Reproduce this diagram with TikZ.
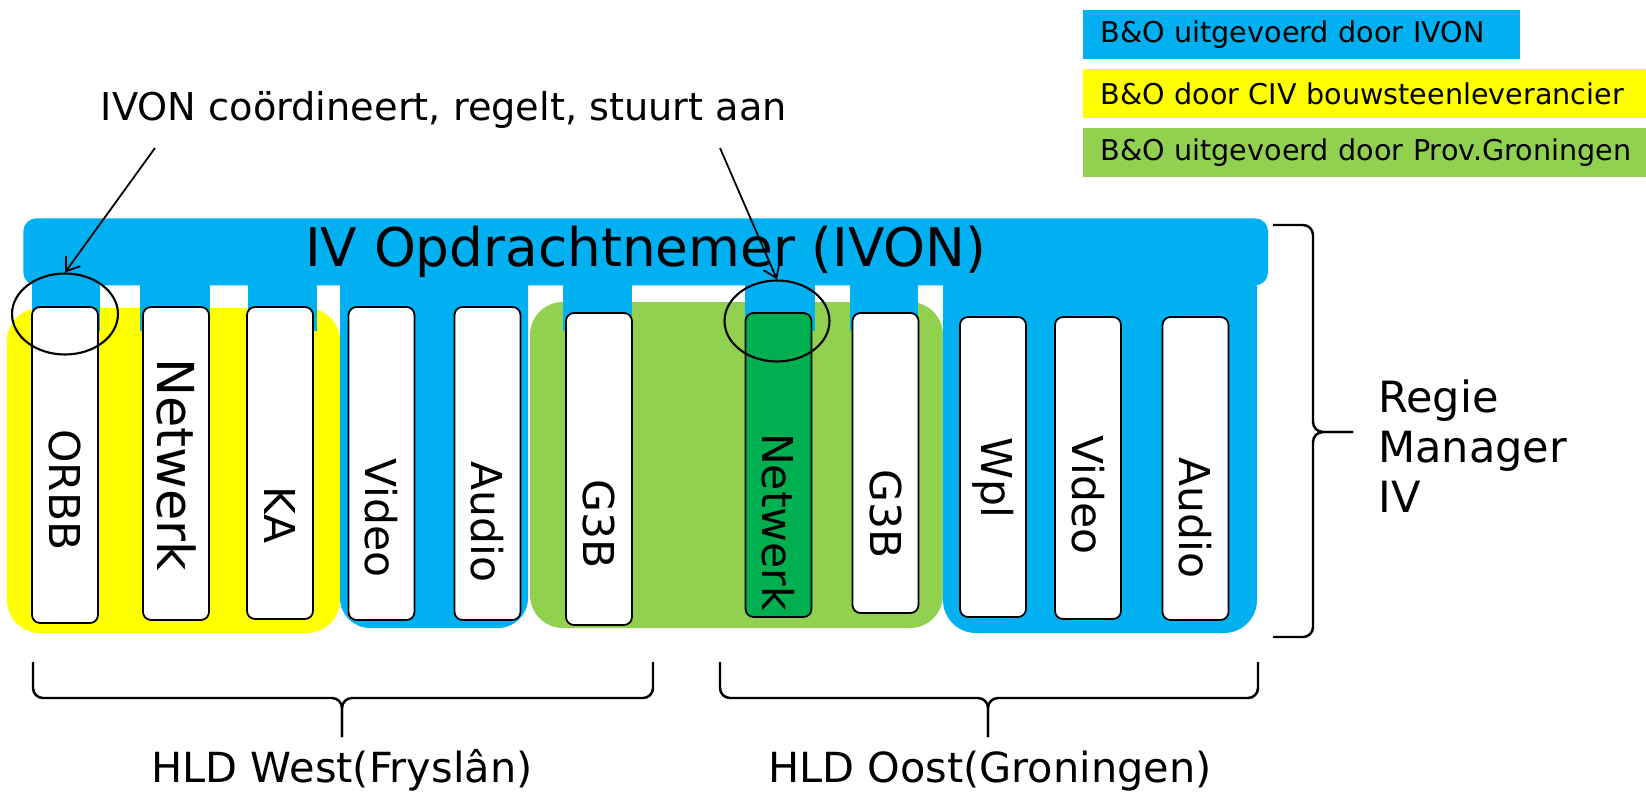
\documentclass[tikz,border=0pt]{standalone}
\usepackage{fontspec}
\setmainfont{DejaVu Sans}
\usepackage{tikz}
\usetikzlibrary{shapes.geometric, arrows.meta, positioning}

\definecolor{ivonblue}{RGB}{0,176,240}
\definecolor{civyellow}{RGB}{255,255,0}
\definecolor{provgreen}{RGB}{146,208,80}
\definecolor{darkgreen}{RGB}{0,176,80}

\begin{document}
\begin{tikzpicture}[
    x=0.02cm, y=-0.02cm,
    colbox/.style={rectangle, draw=black, line width=1pt, fill=white, rounded corners=0.16cm, minimum width=1.32cm, inner sep=0pt},
    collabel/.style={rotate=-90, font=\fontsize{24.2}{28}\selectfont, inner sep=0pt},
    legend/.style={anchor=north west, minimum height=0.98cm, inner xsep=0.34cm, inner ysep=0pt, align=left, font=\fontsize{16.3}{19}\selectfont},
    ring/.style={ellipse, draw=black, line width=1.2pt, inner sep=0pt},
    pointer/.style={-{Straight Barb[length=2.5mm, width=3.5mm]}, line width=1pt},
    curly/.style={draw=black, line width=1.4pt, rounded corners=0.2cm},
    tab/.style={fill=ivonblue}
]
    \useasboundingbox (0,0) rectangle (1646,794);

    % coloured areas behind the columns
    \fill[civyellow, rounded corners=0.66cm] (7,308) rectangle (340,633);
    \fill[provgreen, rounded corners=0.66cm] (530,302) rectangle (943,628);
    \fill[ivonblue, rounded corners=0.6cm] (340,240) rectangle (528,628);
    \fill[ivonblue, rounded corners=0.66cm] (943,240) rectangle (1257,633);
    \foreach \a/\b in {32/100, 140/210, 248/317, 563/632, 745/815, 850/918}
        \fill[tab] (\a,270) rectangle (\b,331);

    % top bar
    \node[rectangle, fill=ivonblue, rounded corners=0.26cm, minimum width=24.9cm, minimum height=1.34cm, anchor=north west, inner sep=0pt, font=\fontsize{30.3}{34}\selectfont] (ivon) at (23,218) {IV Opdrachtnemer (IVON)};

    % columns
    \node[colbox, minimum height=6.32cm] (orbb) at (65,465) {};
    \node[colbox, minimum height=6.26cm] (netwest) at (176,463.5) {};
    \node[colbox, minimum height=6.24cm] (ka) at (280,463) {};
    \node[colbox, minimum height=6.26cm] (videowest) at (381.5,463.5) {};
    \node[colbox, minimum height=6.26cm] (audiowest) at (487.5,463.5) {};
    \node[colbox, minimum height=6.24cm] (gdriebwest) at (599,469) {};
    \node[colbox, fill=darkgreen, minimum height=6.08cm] (netoost) at (778.5,465) {};
    \node[colbox, minimum height=6.0cm] (gdrieboost) at (885.5,463) {};
    \node[colbox, minimum height=6.0cm] (wpl) at (993,467) {};
    \node[colbox, minimum height=6.04cm] (videooost) at (1088,468) {};
    \node[colbox, minimum height=6.06cm] (audiooost) at (1195.5,468.5) {};

    \node[collabel] (orbbtext) at (65,490) {ORBB};
    \node[collabel, font=\fontsize{29}{34}\selectfont] (netwesttext) at (176,465) {Netwerk};
    \node[collabel] (katext) at (280,515) {KA};
    \node[collabel] (videowesttext) at (381.5,518) {Video};
    \node[collabel] (audiowesttext) at (487.5,522) {Audio};
    \node[collabel] (gdriebwesttext) at (599,524) {G3B};
    \node[collabel] (netoosttext) at (778.5,522) {Netwerk};
    \node[collabel] (gdrieboosttext) at (885.5,514) {G3B};
    \node[collabel] (wpltext) at (993,478) {Wpl};
    \node[collabel] (videoosttext) at (1088,495) {Video};
    \node[collabel] (audiooosttext) at (1195.5,518) {Audio};

    % rings and note
    \node[ring, minimum width=2.12cm, minimum height=1.62cm] (ringwest) at (65,314) {};
    \node[ring, minimum width=2.1cm, minimum height=1.62cm] (ringeast) at (777,321) {};
    \node[anchor=base, inner sep=0pt, font=\fontsize{21.8}{26}\selectfont] (note) at (444,120) {IVON coördineert, regelt, stuurt aan};
    \coordinate (tailwest) at (155,148);
    \coordinate (taileast) at (720,148);
    \draw[pointer] (tailwest) -- (ringwest.north);
    \draw[pointer] (taileast) -- (ringeast.north);

    % legend
    \node[legend, fill=ivonblue, text width=8.06cm] (legivon) at (1083,10) {B\&O uitgevoerd door IVON};
    \node[legend, fill=civyellow, text width=11.2cm] (legciv) at (1083,69) {B\&O door CIV bouwsteenleverancier};
    \node[legend, fill=provgreen, text width=11.2cm] (legprov) at (1083,128) {B\&O uitgevoerd door Prov.Groningen};

    % braces
    \draw[curly] (33,662) |- (342,698) -- (342,737);
    \draw[curly] (653,662) |- (342,698) -- (342,737);
    \draw[curly] (720,662) |- (988,698) -- (988,737);
    \draw[curly] (1258,662) |- (988,698) -- (988,737);
    \draw[curly] (1273,225) -| (1313,432) -- (1353,432);
    \draw[curly] (1273,637) -| (1313,432) -- (1353,432);

    \node[anchor=base, inner sep=0pt, font=\fontsize{23.6}{28}\selectfont] (west) at (342,782) {HLD West(Fryslân)};
    \node[anchor=base, inner sep=0pt, font=\fontsize{23.6}{28}\selectfont] (oost) at (990,782) {HLD Oost(Groningen)};
    \node[anchor=north west, inner sep=0pt, align=left, font=\fontsize{24.5}{28.5}\selectfont] (regie) at (1378,379) {Regie\\Manager\\IV};
\end{tikzpicture}
\end{document}
